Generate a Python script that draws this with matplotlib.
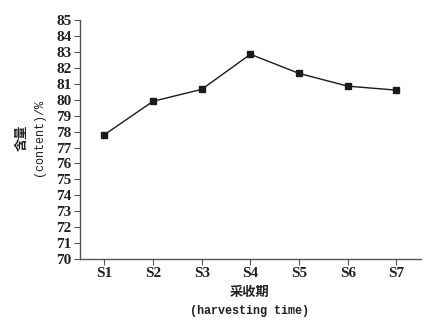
import matplotlib.pyplot as plt

# --- Data ---
stages = ['S1', 'S2', 'S3', 'S4', 'S5', 'S6', 'S7']
content = [77.8, 79.9, 80.65, 82.85, 81.65, 80.85, 80.6]
y_ticks = list(range(70, 86))

cjk = ['Liberation Serif', 'Noto Sans CJK SC']
mono = ['Liberation Mono', 'Noto Sans CJK SC']

fig = plt.figure(figsize=(4.42, 3.23), dpi=100)
ax = fig.add_axes([0.181, 0.198, 0.771, 0.74])

x = list(range(1, len(stages) + 1))
ax.plot(x, content, color='#1a1a1a', lw=1.0, marker='s', ms=4, mfc='#1a1a1a', mec='#1a1a1a')

ax.set_xlim(0.5, 7.5)
ax.set_ylim(70, 85)
ax.set_xticks(x)
ax.set_xticklabels(stages)
ax.set_yticks(y_ticks)

for s in ['top', 'right']:
    ax.spines[s].set_visible(False)
for s in ['left', 'bottom']:
    ax.spines[s].set_color('#555555')
    ax.spines[s].set_linewidth(1.0)

ax.tick_params(direction='out', length=4, width=0.8, color='#555555', labelsize=11, pad=2)
for lab in ax.get_xticklabels() + ax.get_yticklabels():
    lab.set_family(cjk)
    lab.set_fontweight('bold')
    lab.set_color('#222222')

# axis titles
fig.text(0.05, 0.575, '含量', rotation=90, ha='center', va='center', family=['Noto Sans CJK SC'],
         fontweight='bold', fontsize=9.5, color='#222222')
fig.text(0.088, 0.575, '(content)/%', rotation=90, ha='center', va='center', family=mono,
         fontsize=8.5, color='#222222')
fig.text(0.565, 0.095, '采收期', ha='center', va='center', family=['Noto Sans CJK SC'],
         fontweight='bold', fontsize=9.5, color='#222222')
fig.text(0.565, 0.037, '(harvesting time)', ha='center', va='center', family=mono,
         fontsize=8.5, fontweight='bold', color='#222222')

fig.savefig('out.png', dpi=100)
